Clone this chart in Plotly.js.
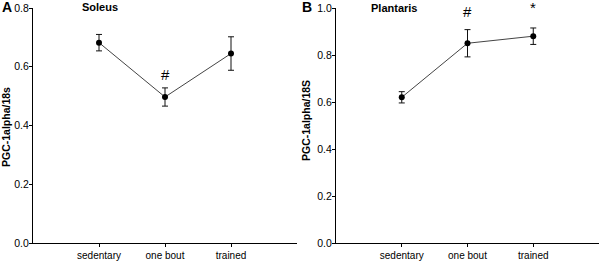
<!DOCTYPE html>
<html><head><meta charset="utf-8">
<script src="https://cdn.plot.ly/plotly-3.0.1.min.js"></script>
<style>html,body{margin:0;padding:0;background:#fff}#c{width:600px;height:265px}</style>
</head><body><div id="c"></div>
<script>
const categories = ["sedentary", "one bout", "trained"];
const soleusMean = [0.682, 0.497, 0.645];
const soleusErr = [0.028, 0.031, 0.057];
const plantarisMean = [0.620, 0.850, 0.880];
const plantarisErr = [0.024, 0.058, 0.035];
const soleusMarks = [{cat: "one bout", y: 0.575, text: "#"}];
const plantarisMarks = [{cat: "one bout", y: 0.985, text: "#"}, {cat: "trained", y: 1.0, text: "*"}];

const F = "Arial, 'Liberation Sans', sans-serif";
function trace(y, err, xa, ya) {
  return {
    x: categories, y: y, xaxis: xa, yaxis: ya, type: "scatter", mode: "lines+markers",
    line: {color: "#444", width: 1},
    marker: {color: "#000", size: 6},
    error_y: {type: "data", array: err, visible: true, color: "#111", thickness: 1, width: 3},
    cliponaxis: false, showlegend: false
  };
}
const axX = (dom, anchor) => ({
  domain: dom, anchor: anchor, type: "category", range: [-1, 3],
  showline: true, linecolor: "#000", linewidth: 1, showgrid: false, zeroline: false,
  ticks: "outside", ticklen: 3, tickcolor: "#000", tickfont: {family: F, size: 10, color: "#000"},
  fixedrange: true
});
const axY = (dom, anchor, range, dtick) => ({
  domain: dom, anchor: anchor, range: range, dtick: dtick, tickformat: ".1f",
  showline: true, linecolor: "#000", linewidth: 1, showgrid: false, zeroline: false,
  ticks: "outside", ticklen: 3, tickcolor: "#000", tickfont: {family: F, size: 10.5, color: "#000"},
  ticklabelstandoff: -2,
  fixedrange: true
});
const yd = [22/265, 257/265];
const anns = [];
// y in data units converted to paper so marks above the axis top still show
function toPaper(v, range) { return yd[0] + (yd[1] - yd[0]) * v / range; }
soleusMarks.forEach(m => anns.push({xref: "x", yref: "paper", x: m.cat, y: toPaper(m.y, 0.8), xanchor: "center", yanchor: "middle", text: m.text, showarrow: false, font: {family: F, size: 15, color: "#000"}}));
plantarisMarks.forEach(m => anns.push({xref: "x2", yref: "paper", x: m.cat, y: toPaper(m.y, 1.0), xanchor: "center", yanchor: "middle", text: m.text, showarrow: false, font: {family: F, size: 15, color: "#000"}}));
anns.push(
  {xref: "paper", yref: "paper", x: 0, y: 1, xanchor: "left", yanchor: "top", yshift: 3, text: "<b>A</b>", showarrow: false, font: {family: F, size: 14, color: "#000"}},
  {xref: "paper", yref: "paper", x: 300/600, y: 1, xanchor: "left", yanchor: "top", yshift: 3, text: "<b>B</b>", showarrow: false, font: {family: F, size: 14, color: "#000"}},
  {xref: "paper", yref: "paper", x: 80/600, y: 1, xanchor: "left", yanchor: "top", yshift: 1, text: "<b>Soleus</b>", showarrow: false, font: {family: F, size: 11, color: "#000"}},
  {xref: "paper", yref: "paper", x: 369/600, y: 1, xanchor: "left", yanchor: "top", yshift: 0, text: "<b>Plantaris</b>", showarrow: false, font: {family: F, size: 11, color: "#000"}},
  {xref: "paper", yref: "paper", x: 6/600, y: 1 - 127/265, xanchor: "center", yanchor: "middle", textangle: -90, text: "<b>PGC-1alpha/18s</b>", showarrow: false, font: {family: F, size: 10.5, color: "#000"}},
  {xref: "paper", yref: "paper", x: 306/600, y: 1 - 121/265, xanchor: "center", yanchor: "middle", textangle: -90, text: "<b>PGC-1alpha/18S</b>", showarrow: false, font: {family: F, size: 10.5, color: "#000"}}
);
const layout = {
  width: 600, height: 265, margin: {l: 0, r: 0, t: 0, b: 0},
  paper_bgcolor: "#fff", plot_bgcolor: "#fff",
  xaxis: axX([33/600, 297/600], "y"),
  yaxis: axY(yd, "x", [0, 0.8], 0.2),
  xaxis2: axX([336/600, 599/600], "y2"),
  yaxis2: axY(yd, "x2", [0, 1.0], 0.2),
  annotations: anns
};
Plotly.newPlot("c", [trace(soleusMean, soleusErr, "x", "y"), trace(plantarisMean, plantarisErr, "x2", "y2")], layout, {staticPlot: true});
</script></body></html>
